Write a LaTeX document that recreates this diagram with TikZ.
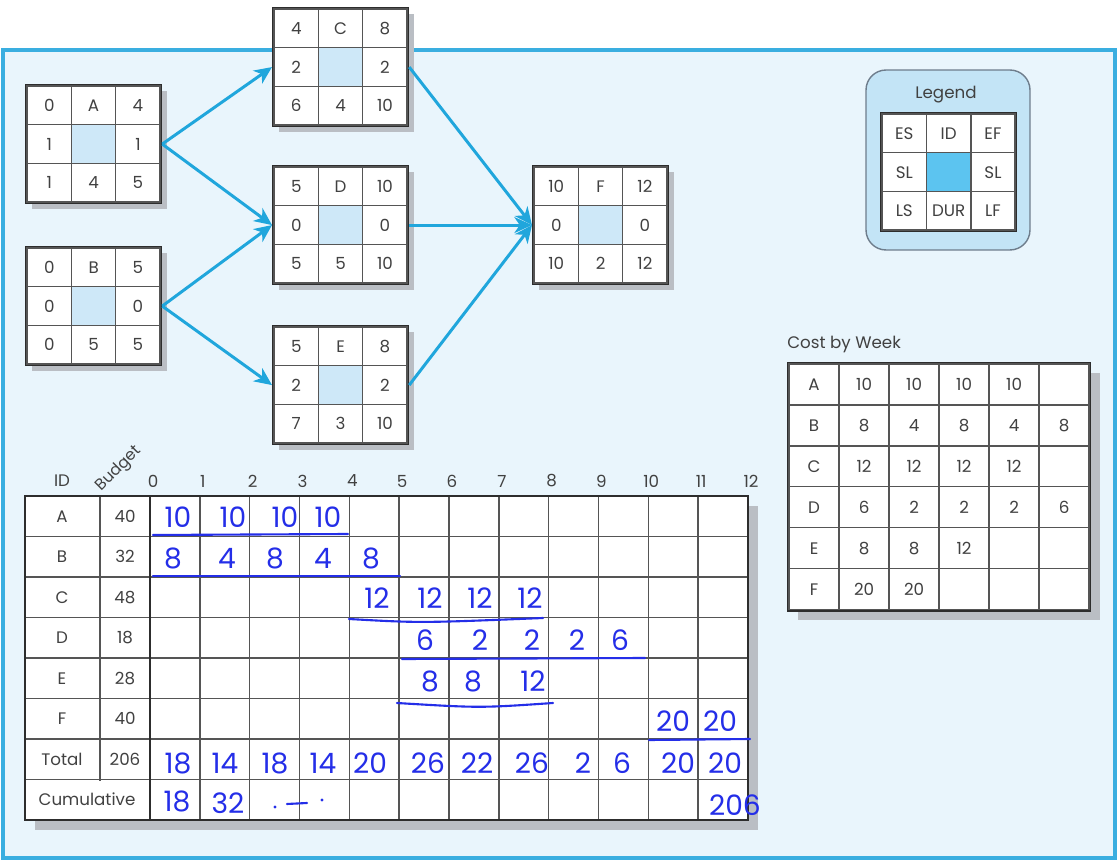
\documentclass[tikz,border=0pt]{standalone}
\usepackage{fontspec}
\setmainfont{Poppins}
\usetikzlibrary{arrows.meta, positioning, matrix, shadows}
\definecolor{panelfill}{RGB}{233,245,252}
\definecolor{panelline}{RGB}{58,174,224}
\definecolor{linkblue}{RGB}{32,166,220}
\definecolor{slackblue}{RGB}{206,232,248}
\definecolor{keyfill}{RGB}{195,228,246}
\definecolor{keyblue}{RGB}{92,196,240}
\definecolor{keyline}{RGB}{110,125,140}
\definecolor{shadowgray}{RGB}{186,190,196}
\definecolor{gridgray}{RGB}{85,85,85}
\definecolor{boxline}{RGB}{45,45,45}
\definecolor{inkgray}{RGB}{65,65,65}
\definecolor{pen}{RGB}{36,46,232}
\newcommand\cellfont{\fontsize{9.5}{11}\selectfont}
\tikzset{
  cell/.style={draw=gridgray, line width=0.8pt, fill=white, inner sep=0pt, anchor=center,
    text height=1.6ex, text depth=0.3ex,
    minimum width=0.887cm, minimum height=0.773cm, text=inkgray, font=\cellfont},
  gridbox/.style={matrix of nodes, nodes in empty cells, nodes={cell},
    column sep=-0.8pt, row sep=-0.8pt, inner sep=0pt, draw=boxline,
    line width=1.6pt, anchor=north west},
  actbox/.style={gridbox, fill=white, drop shadow={shadow xshift=0.12cm,
    shadow yshift=-0.12cm, opacity=1, fill=shadowgray}},
  costbox/.style={gridbox, fill=white, nodes={minimum width=1cm, minimum height=0.818cm},
    drop shadow={shadow xshift=0.2cm, shadow yshift=-0.2cm, opacity=1, fill=shadowgray}},
  link/.style={-{Stealth[length=10pt, width=9pt, inset=3pt]}, line width=1.7pt, draw=linkblue},
  txt/.style={text=inkgray, font=\cellfont, inner sep=0pt},
  thinrule/.style={draw=gridgray, line width=0.8pt},
  thickrule/.style={draw=boxline, line width=1.6pt},
  pennum/.style={text=pen, font=\fontsize{16}{18}\selectfont, inner sep=0pt},
  penline/.style={draw=pen, line width=1.2pt, line cap=round},
}

\begin{document}
\begin{tikzpicture}[x=0.02cm, y=-0.02cm]
  \useasboundingbox (0,0) rectangle (1119,861);
  \draw[panelline, fill=panelfill, line width=1.8pt] (3,50) rectangle (1115,858);

  % network
  \matrix (A) [actbox] at (25,84) {0 & A & 4\\ 1 & |[fill=slackblue]| & 1\\ 1 & 4 & 5\\};
  \matrix (B) [actbox] at (25,246) {0 & B & 5\\ 0 & |[fill=slackblue]| & 0\\ 0 & 5 & 5\\};
  \matrix (C) [actbox] at (272,7) {4 & C & 8\\ 2 & |[fill=slackblue]| & 2\\ 6 & 4 & 10\\};
  \matrix (D) [actbox] at (272,165) {5 & D & 10\\ 0 & |[fill=slackblue]| & 0\\ 5 & 5 & 10\\};
  \matrix (E) [actbox] at (272,325) {5 & E & 8\\ 2 & |[fill=slackblue]| & 2\\ 7 & 3 & 10\\};
  \matrix (F) [actbox] at (532,165) {10 & F & 12\\ 0 & |[fill=slackblue]| & 0\\ 10 & 2 & 12\\};

  \draw[link] (A.east) -- (C.west);
  \draw[link] (A.east) -- (D.west);
  \draw[link] (B.east) -- (D.west);
  \draw[link] (B.east) -- (E.west);
  \draw[link] (C.east) -- (F.west);
  \draw[link] (D.east) -- (F.west);
  \draw[link] (E.east) -- (F.west);

  % legend
  \node (legendframe) [draw=keyline, fill=keyfill, line width=0.8pt, rounded corners=0.4cm,
    minimum width=3.28cm, minimum height=3.6cm] at (948,160) {};
  \node[txt] (legendtitle) at (946,95) {Legend};
  \matrix (key) [gridbox] at (880,112) {ES & ID & EF\\ SL & |[fill=keyblue]| & SL\\ LS & DUR & LF\\};

  % cost by week
  \matrix (cost) [costbox] at (787,362) {
    A & 10 & 10 & 10 & 10 & \\
    B & 8 & 4 & 8 & 4 & 8\\
    C & 12 & 12 & 12 & 12 & \\
    D & 6 & 2 & 2 & 2 & 6\\
    E & 8 & 8 & 12 & & \\
    F & 20 & 20 & & & \\
  };
  \node[txt, anchor=south west] (costtitle) at ([yshift=5pt]cost.north west) {Cost by Week};

  % budget table
  \fill[shadowgray] (35,506) rectangle (758,830);
  \fill[white] (25,496) rectangle (748,820);
  \foreach \k in {1,...,7}
    \draw[thinrule] (25,{496+40.5*\k}) -- (748,{496+40.5*\k});
  \foreach \j in {1,...,11}
    \draw[thinrule] ({150+49.83*\j},496) -- ({150+49.83*\j},820);
  \draw[thinrule] (100,496) -- (100,780.5);
  \draw[thickrule] (150,496) -- (150,820);
  \draw[thickrule] (25,496) rectangle (748,820);

  \node[txt] (idhead) at (62,481) {ID};
  \node[txt, rotate=45, font=\fontsize{9}{10}\selectfont] (budgethead) at (119,469) {Budget};
  \foreach \j in {0,...,12}
    \node[txt] (wk\j) at ({153+49.83*\j},481) {\j};
  \foreach \id/\b [count=\k from 0] in {A/40, B/32, C/48, D/18, E/28, F/40, Total/206} {
    \node[txt] (id\k) at (62,{516.25+40.5*\k}) {\id};
    \node[txt] (bud\k) at (125,{516.25+40.5*\k}) {\b};
  }
  \node[txt] (cumhead) at (87,799) {Cumulative};

  % pen notes
  \foreach \x/\v [count=\i] in {178/10, 233/10, 285/10, 328/10}
    \node[pennum] (pa\i) at (\x,517) {\v};
  \draw[penline] (153,535) -- (348,534);
  \foreach \x/\v [count=\i] in {173/8, 227/4, 275/8, 323/4, 371/8}
    \node[pennum] (pb\i) at (\x,558) {\v};
  \draw[penline] (153,576) -- (400,576);
  \foreach \x/\v [count=\i] in {377/12, 430/12, 480/12, 530/12}
    \node[pennum] (pc\i) at (\x,598) {\v};
  \draw[penline] (349,619) .. controls (420,623) .. (543,618);
  \foreach \x/\v [count=\i] in {425/6, 480/2, 532/2, 577/2, 620/6}
    \node[pennum] (pd\i) at (\x,640) {\v};
  \draw[penline] (402,659) -- (645,658);
  \foreach \x/\v [count=\i] in {430/8, 473/8, 533/12}
    \node[pennum] (pe\i) at (\x,681) {\v};
  \draw[penline] (397,703) .. controls (480,708) .. (553,703);
  \foreach \x/\v [count=\i] in {673/20, 720/20}
    \node[pennum] (pf\i) at (\x,721) {\v};
  \draw[penline] (649,740) -- (750,739);
  \foreach \x/\v [count=\i] in {178/18, 225/14, 275/18, 323/14, 370/20, 428/26, 477/22,
      532/26, 583/2, 622/6, 678/20, 725/20}
    \node[pennum] (pt\i) at (\x,763) {\v};
  \node[pennum] (pcum1) at (177,801) {18};
  \node[pennum] (pcum2) at (228,803) {32};
  \fill[pen] (275,807) circle (1.6);
  \draw[penline] (287,804) -- (307,803);
  \fill[pen] (322,800) circle (1.6);
  \node[pennum] (pcum12) at (735,805) {206};
\end{tikzpicture}
\end{document}
